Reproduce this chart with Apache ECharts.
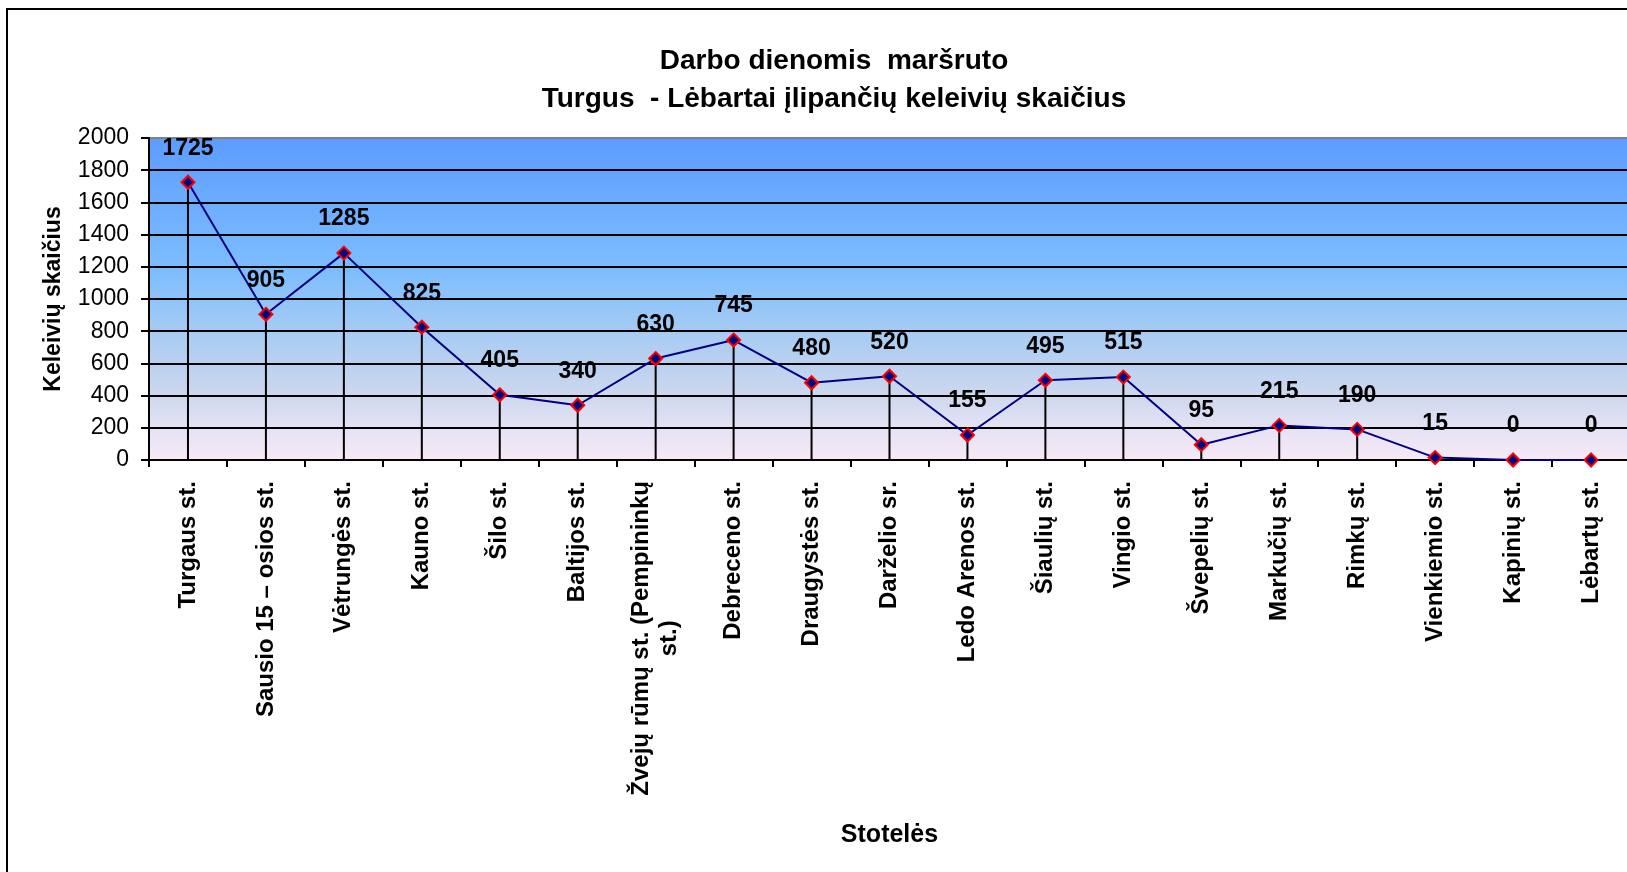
<!DOCTYPE html>
<html>
<head>
<meta charset="utf-8">
<title>Darbo dienomis maršruto Turgus - Lėbartai</title>
<script src="https://cdn.jsdelivr.net/npm/echarts@6.0.0/dist/echarts.min.js"></script>
<style>
    html, body { margin: 0; padding: 0; background: #fff; }
    #route_chart { width: 1627px; height: 872px; }
</style>
</head>
<body>
<div id="route_chart"></div>
<script>
// stotelės (x ašis)
var stopNames = [ 'Turgaus st.', 'Sausio 15 – osios st.', 'Vėtrungės st.', 'Kauno st.', 'Šilo st.', 'Baltijos st.',
        'Žvejų rūmų st. (Pempininkų\nst.)', 'Debreceno st.', 'Draugystės st.', 'Darželio sr.', 'Ledo Arenos st.',
        'Šiaulių st.', 'Vingio st.', 'Švepelių st.', 'Markučių st.', 'Rimkų st.', 'Vienkiemio st.', 'Kapinių st.',
        'Lėbartų st.' ];
// įlipusių keleivių skaičius
var passengers = [ 1725, 905, 1285, 825, 405, 340, 630, 745, 480, 520, 155, 495, 515, 95, 215, 190, 15, 0, 0 ];
// y ašies žymės
var yTicks = [ 0, 200, 400, 600, 800, 1000, 1200, 1400, 1600, 1800, 2000 ];

var FONT = '"Liberation Sans", Arial, sans-serif';

var route_chart = {
    chart : null,
    init : function() {
        this.chart = echarts.init(document.getElementById('route_chart'), null, { renderer : 'canvas' });
        this.draw();
    },
    draw : function() {
        // horizontalios linijos: viršutinė pilka, kitos juodos
        var splitColors = [];
        for (var i = 0; i < yTicks.length; i++) {
            splitColors.push(i == yTicks.length - 1 ? '#808080' : '#000000');
        }
        var option = {
            backgroundColor : '#ffffff',
            animation : false,
            textStyle : { fontFamily : FONT },
            title : {
                text : 'Darbo dienomis  maršruto\nTurgus  - Lėbartai įlipančių keleivių skaičius',
                left : 829,
                top : 37,
                textAlign : 'center',
                textStyle : {
                    fontFamily : FONT,
                    fontSize : 28,
                    fontWeight : 'bold',
                    color : '#000',
                    lineHeight : 38
                }
            },
            graphic : [ {
                type : 'rect',
                shape : { x : 7, y : 9, width : 1700, height : 1000 },
                style : { fill : null, stroke : '#000', lineWidth : 2 },
                silent : true
            } ],
            grid : {
                left : 149,
                top : 138,
                width : 1481,
                height : 322,
                containLabel : false,
                outerBoundsMode : 'none',
                show : true,
                borderWidth : 0,
                backgroundColor : {
                    type : 'linear',
                    x : 0, y : 0, x2 : 0, y2 : 1,
                    colorStops : [
                        { offset : 0, color : '#5C9CFF' },
                        { offset : 0.42, color : '#7EBEFE' },
                        { offset : 0.6, color : '#A6CBF3' },
                        { offset : 0.78, color : '#C9D6EE' },
                        { offset : 0.9, color : '#E4E2F4' },
                        { offset : 1, color : '#F8E9F6' }
                    ]
                }
            },
            xAxis : {
                type : 'category',
                data : stopNames,
                boundaryGap : true,
                name : 'Stotelės',
                nameLocation : 'middle',
                nameGap : 363,
                nameTextStyle : { fontFamily : FONT, fontSize : 25, fontWeight : 'bold', color : '#000' },
                axisLine : { show : true, lineStyle : { color : '#000', width : 2 } },
                axisTick : { show : true, length : 7, lineStyle : { color : '#000', width : 2 } },
                axisLabel : {
                    rotate : 90,
                    margin : 21,
                    interval : 0,
                    color : '#000',
                    fontFamily : FONT,
                    fontSize : 24,
                    fontWeight : 'bold',
                    formatter : function(value) {
                        return value.split('\n').map(function(s) {
                            return '{c|' + s + '}';
                        }).join('\n');
                    },
                    rich : {
                        c : { align : 'center', fontFamily : FONT, fontSize : 24, fontWeight : 'bold', color : '#000', lineHeight : 28 }
                    }
                },
                splitLine : { show : false }
            },
            yAxis : {
                type : 'value',
                min : 0,
                max : 2000,
                interval : 200,
                name : 'Keleivių skaičius',
                nameLocation : 'middle',
                nameGap : 84,
                nameTextStyle : { fontFamily : FONT, fontSize : 23, fontWeight : 'bold', color : '#000' },
                axisLine : { show : true, lineStyle : { color : '#000', width : 2 } },
                axisTick : { show : true, length : 8, lineStyle : { color : '#000', width : 2 } },
                axisLabel : {
                    margin : 20,
                    color : '#000',
                    fontFamily : FONT,
                    fontSize : 23,
                    formatter : function(v) {
                        return String(v);
                    }
                },
                splitLine : { show : true, lineStyle : { color : splitColors, width : 2 } }
            },
            series : [ {
                // vertikalios linijos nuo taško iki ašies
                name : 'drop',
                type : 'bar',
                barWidth : 2,
                silent : true,
                itemStyle : { color : '#000' },
                data : passengers,
                z : 2
            }, {
                name : 'Keleiviai',
                type : 'line',
                data : passengers,
                symbol : 'diamond',
                symbolSize : 13,
                lineStyle : { color : '#000080', width : 2 },
                itemStyle : { color : '#000080', borderColor : '#FF0000', borderWidth : 2 },
                label : {
                    show : true,
                    position : 'top',
                    distance : 15,
                    color : '#000',
                    fontFamily : FONT,
                    fontSize : 23,
                    fontWeight : 'bold'
                },
                z : 3
            } ]
        };
        this.chart.setOption(option);
    }
};

route_chart.init();
</script>
</body>
</html>
